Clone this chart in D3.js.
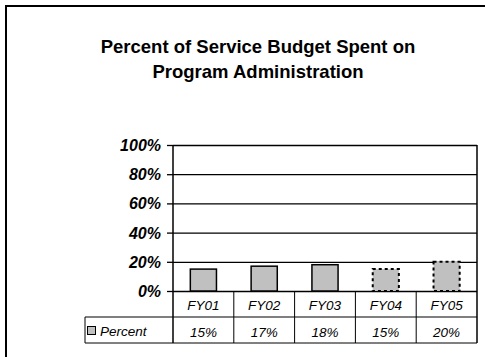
<!DOCTYPE html>
<html>
<head>
<meta charset="utf-8">
<script src="https://cdn.jsdelivr.net/npm/d3@7"></script>
<style>
  body { margin: 0; background: #fff; }
  svg text { font-family: "Liberation Sans", Arial, sans-serif; fill: #000; }
</style>
</head>
<body>
<div id="chart"></div>
<script>
// data
const years = ['FY01', 'FY02', 'FY03', 'FY04', 'FY05'];
const percent = [0.15, 0.17, 0.18, 0.15, 0.20];
const projected = [false, false, false, true, true];   // dashed outline bars
const yTicks = [0, 0.2, 0.4, 0.6, 0.8, 1.0];
const seriesName = 'Percent';
const titleLines = ['Percent of Service Budget Spent on', 'Program Administration'];

const W = 485, H = 357;
const plot = {left: 173, right: 477, top: 145, bottom: 291};
const rowH = 26;
const legendLeft = 85;

const svg = d3.select('#chart').append('svg')
  .attr('width', W)
  .attr('height', H);

// outer frame (clipped on right and bottom in the original)
svg.append('rect')
  .attr('x', 6).attr('y', 6)
  .attr('width', W + 10).attr('height', H + 10)
  .attr('fill', 'none')
  .attr('stroke', '#000')
  .attr('stroke-width', 2);

// title
svg.append('g').selectAll('text')
  .data(titleLines)
  .join('text')
  .attr('x', 258)
  .attr('y', (d, i) => 53 + i * 25)
  .attr('text-anchor', 'middle')
  .style('font-size', '18.5px')
  .style('font-weight', 'bold')
  .text(d => d);

const x = d3.scaleBand()
  .domain(years)
  .range([plot.left, plot.right])
  .paddingInner(0.57)
  .paddingOuter(0.285);

const y = d3.scaleLinear()
  .domain([0, 1])
  .range([plot.bottom, plot.top]);

// gridlines
svg.append('g')
  .attr('transform', `translate(${plot.left},0)`)
  .call(d3.axisLeft(y).tickValues(yTicks).tickSize(-(plot.right - plot.left)).tickFormat(''))
  .call(g => g.select('.domain').remove())
  .call(g => g.selectAll('line').attr('stroke', '#000').attr('stroke-width', 1.3));

// y axis with labels
svg.append('g')
  .attr('transform', `translate(${plot.left},0)`)
  .call(d3.axisLeft(y).tickValues(yTicks).tickSize(6).tickPadding(6).tickFormat(d3.format('.0%')))
  .call(g => g.select('.domain').remove())
  .call(g => g.selectAll('line').attr('stroke', '#000').attr('stroke-width', 1.3))
  .call(g => g.selectAll('text')
    .style('font-size', '16px')
    .style('font-weight', 'bold')
    .style('font-style', 'italic')
    .attr('dy', '0.34em'));

// bars
svg.append('g').selectAll('rect')
  .data(years)
  .join('rect')
  .attr('x', d => x(d))
  .attr('y', (d, i) => y(percent[i]))
  .attr('width', x.bandwidth())
  .attr('height', (d, i) => y(0) - y(percent[i]))
  .attr('fill', '#c0c0c0')
  .attr('stroke', '#000')
  .attr('stroke-width', (d, i) => projected[i] ? 2 : 1.5)
  .attr('stroke-dasharray', (d, i) => projected[i] ? '3,3' : null);

// plot frame: left axis line and right edge (continue down through the table)
const tableBottom = plot.bottom + 2 * rowH;
svg.append('line')
  .attr('x1', plot.left).attr('x2', plot.left)
  .attr('y1', plot.top).attr('y2', tableBottom)
  .attr('stroke', '#000').attr('stroke-width', 1.5);
svg.append('line')
  .attr('x1', plot.right).attr('x2', plot.right)
  .attr('y1', plot.top).attr('y2', tableBottom)
  .attr('stroke', '#000').attr('stroke-width', 1.5);

// data table
const step = x.step();
const cellLeft = d => x(d) - x.paddingOuter() * step;
const table = svg.append('g');

table.selectAll('line.div')
  .data(years.slice(1))
  .join('line')
  .attr('class', 'div')
  .attr('x1', d => cellLeft(d)).attr('x2', d => cellLeft(d))
  .attr('y1', plot.bottom).attr('y2', tableBottom)
  .attr('stroke', '#000').attr('stroke-width', 1);

[plot.bottom + rowH, tableBottom].forEach(yy => {
  table.append('line')
    .attr('x1', legendLeft).attr('x2', plot.right)
    .attr('y1', yy).attr('y2', yy)
    .attr('stroke', '#000').attr('stroke-width', 1);
});
table.append('line')
  .attr('x1', legendLeft).attr('x2', legendLeft)
  .attr('y1', plot.bottom + rowH).attr('y2', tableBottom)
  .attr('stroke', '#000').attr('stroke-width', 1);

// category row
table.selectAll('text.cat')
  .data(years)
  .join('text')
  .attr('class', 'cat')
  .attr('x', d => x(d) + x.bandwidth() / 2)
  .attr('y', plot.bottom + 19)
  .attr('text-anchor', 'middle')
  .style('font-size', '13.5px')
  .style('font-style', 'italic')
  .text(d => d);

// value row
table.selectAll('text.val')
  .data(years)
  .join('text')
  .attr('class', 'val')
  .attr('x', d => x(d) + x.bandwidth() / 2)
  .attr('y', plot.bottom + rowH + 20)
  .attr('text-anchor', 'middle')
  .style('font-size', '13.5px')
  .style('font-style', 'italic')
  .text((d, i) => d3.format('.0%')(percent[i]));

// legend key
table.append('rect')
  .attr('x', 87.5).attr('y', plot.bottom + rowH + 9.5)
  .attr('width', 8).attr('height', 8)
  .attr('fill', '#c0c0c0')
  .attr('stroke', '#000')
  .attr('stroke-width', 1);
table.append('text')
  .attr('x', 100)
  .attr('y', plot.bottom + rowH + 18.5)
  .style('font-size', '13.5px')
  .style('font-style', 'italic')
  .text(seriesName);
</script>
</body>
</html>
